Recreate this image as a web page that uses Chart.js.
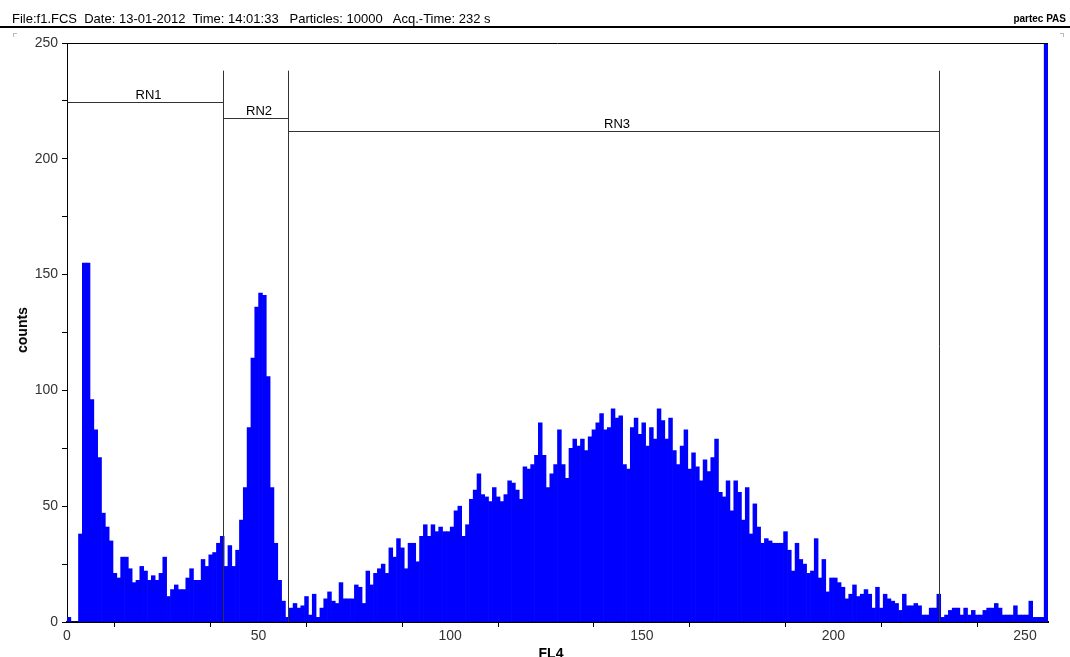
<!DOCTYPE html>
<html>
<head>
<meta charset="utf-8">
<script src="https://cdn.jsdelivr.net/npm/chart.js@4.4.1/dist/chart.umd.min.js"></script>
<style>
  html, body { margin: 0; padding: 0; background: #fff; }
  #wrap { position: relative; width: 1070px; height: 657px; overflow: hidden; font-family: "Liberation Sans", Arial, sans-serif; }
  #chart { position: absolute; left: 0; top: 0; }
  .hdr { position: absolute; left: 12px; top: 11px; font-size: 13px; line-height: 15px; color: #000; white-space: pre; }
  .brand { position: absolute; right: 4px; top: 13px; font-size: 10px; font-weight: bold; color: #000; }
  .rule { position: absolute; left: 0; top: 26px; width: 1070px; height: 2px; background: #000; }
  .corner { position: absolute; top: 33px; width: 3px; height: 3px; border-top: 1px solid #bbb; }
  .ytitle { position: absolute; left: 22px; top: 330px; transform: translate(-50%, -50%) rotate(-90deg); font-size: 14px; font-weight: bold; color: #000; }
  .xtitle { position: absolute; left: 551px; top: 645px; transform: translateX(-50%); font-size: 14px; font-weight: bold; color: #000; }
</style>
</head>
<body>
<div id="wrap">
  <canvas id="chart" width="1070" height="657"></canvas>
  <div class="hdr">File:f1.FCS  Date: 13-01-2012  Time: 14:01:33   Particles: 10000   Acq.-Time: 232 s</div>
  <div class="brand">partec PAS</div>
  <div class="rule"></div>
  <div class="corner" style="left:13px; border-left:1px solid #bbb;"></div>
  <div class="corner" style="left:1060px; border-right:1px solid #bbb;"></div>
  <div class="ytitle">counts</div>
  <div class="xtitle">FL4</div>
</div>
<script>
// ---------------- 데이터 ----------------

// FL4 채널별 카운트 (0..255)
const counts = [
  2, 0, 0, 38, 155, 155, 96, 83, 71, 47,
  41, 35, 21, 19, 28, 28, 23, 17, 18, 24,
  22, 18, 20, 18, 21, 28, 11, 14, 16, 14,
  14, 19, 23, 18, 18, 27, 24, 29, 30, 34,
  37, 24, 33, 24, 31, 44, 58, 84, 114, 136,
  142, 141, 106, 58, 34, 18, 9, 2, 6, 8,
  6, 7, 11, 3, 12, 2, 6, 10, 13, 9,
  8, 17, 10, 10, 10, 16, 15, 8, 22, 16,
  21, 23, 25, 21, 32, 28, 36, 32, 23, 34,
  34, 26, 37, 42, 37, 42, 39, 41, 39, 39,
  41, 48, 50, 37, 42, 53, 57, 64, 55, 54,
  52, 58, 54, 52, 55, 61, 60, 57, 53, 67,
  66, 68, 72, 86, 72, 58, 64, 68, 83, 68,
  62, 75, 79, 76, 79, 74, 80, 83, 86, 90,
  83, 84, 92, 88, 89, 68, 66, 84, 88, 81,
  86, 76, 84, 79, 92, 87, 79, 88, 74, 68,
  76, 83, 66, 73, 67, 61, 70, 65, 71, 79,
  56, 54, 61, 48, 61, 56, 44, 58, 38, 51,
  41, 34, 36, 35, 34, 34, 34, 39, 31, 22,
  34, 27, 25, 21, 22, 36, 19, 27, 13, 19,
  19, 17, 15, 10, 12, 16, 11, 12, 14, 12,
  6, 15, 6, 12, 10, 9, 8, 5, 12, 7,
  7, 8, 7, 3, 3, 6, 6, 12, 2, 3,
  5, 6, 6, 3, 6, 3, 5, 3, 3, 5,
  6, 6, 8, 6, 3, 3, 3, 7, 3, 3,
  3, 9, 2, 2, 2, 400
];
const channels = counts.map((_, i) => i);

// 축 눈금
const xTicks = [0, 25, 50, 75, 100, 125, 150, 175, 200, 225, 250];
const yTicks = [0, 25, 50, 75, 100, 125, 150, 175, 200, 225, 250];

// 영역 마커 (RN1..RN3)
const gateNames = ["RN1", "RN2", "RN3"];
const gateFrom  = [0, 40.8, 57.8];
const gateTo    = [40.8, 57.8, 227.6];
const gateLevel = [224.5, 217.8, 212];
const gateTop   = 238;

// ---------------- 플러그인 ----------------

const FONT = '"Liberation Sans", Arial, sans-serif';

const gatePlugin = {
  id: "gates",
  afterDatasetsDraw(chart) {
    const { ctx, chartArea, scales: { x, y } } = chart;
    ctx.save();
    // 상단 테두리
    ctx.strokeStyle = "#000";
    ctx.lineWidth = 1;
    ctx.beginPath();
    ctx.moveTo(chartArea.left, Math.round(chartArea.top) + 0.5);
    ctx.lineTo(chartArea.right, Math.round(chartArea.top) + 0.5);
    ctx.stroke();

    ctx.strokeStyle = "#333";
    ctx.fillStyle = "#000";
    ctx.font = "13px " + FONT;
    ctx.textAlign = "center";
    ctx.textBaseline = "bottom";
    gateNames.forEach((name, i) => {
      const x0 = Math.round(x.getPixelForValue(gateFrom[i])) + 0.5;
      const x1 = Math.round(x.getPixelForValue(gateTo[i])) + 0.5;
      const yl = Math.round(y.getPixelForValue(gateLevel[i])) + 0.5;
      const yt = y.getPixelForValue(gateTop);
      const yb = y.getPixelForValue(0);
      ctx.beginPath();
      ctx.moveTo(x0, yl); ctx.lineTo(x1, yl);
      if (gateFrom[i] > 0) { ctx.moveTo(x0, yt); ctx.lineTo(x0, yb); }
      ctx.moveTo(x1, yt); ctx.lineTo(x1, yb);
      ctx.stroke();
      ctx.fillText(name, (x0 + x1) / 2 + 3, yl - 1);
    });
    ctx.restore();
  }
};

// ---------------- 차트 ----------------

new Chart(document.getElementById("chart"), {
  type: "bar",
  data: {
    datasets: [{
      data: channels.map((c, i) => ({ x: c + 0.5, y: counts[i] })),
      backgroundColor: "#0000ff",
      borderWidth: 0,
      barPercentage: 1,
      categoryPercentage: 1,
      grouped: false
    }]
  },
  options: {
    responsive: false,
    animation: false,
    events: [],
    layout: { padding: { top: 43, right: 22, left: 0, bottom: 0 } },
    plugins: { legend: { display: false }, tooltip: { enabled: false } },
    scales: {
      x: {
        type: "linear",
        min: 0,
        max: 256,
        offset: false,
        border: { display: true, color: "#000", width: 2 },
        grid: { drawOnChartArea: false, drawTicks: true, tickLength: 5, color: "#000" },
        afterBuildTicks: s => { s.ticks = xTicks.map(v => ({ value: v })); },
        afterFit: s => { s.height = 35; },
        ticks: {
          autoSkip: false, maxRotation: 0, padding: 1, color: "#333",
          font: { family: FONT, size: 14 },
          callback: v => (v % 50 === 0 ? v : "")
        }
      },
      y: {
        min: 0,
        max: 250,
        border: { display: true, color: "#000", width: 1 },
        grid: { drawOnChartArea: false, drawTicks: true, tickLength: 5, color: "#000" },
        afterBuildTicks: s => { s.ticks = yTicks.map(v => ({ value: v })); },
        afterFit: s => { s.width = 67; },
        ticks: {
          autoSkip: false, padding: 4, color: "#333",
          font: { family: FONT, size: 14 },
          callback: v => (v % 50 === 0 ? v : "")
        }
      }
    }
  },
  plugins: [gatePlugin]
});
</script>
</body>
</html>
